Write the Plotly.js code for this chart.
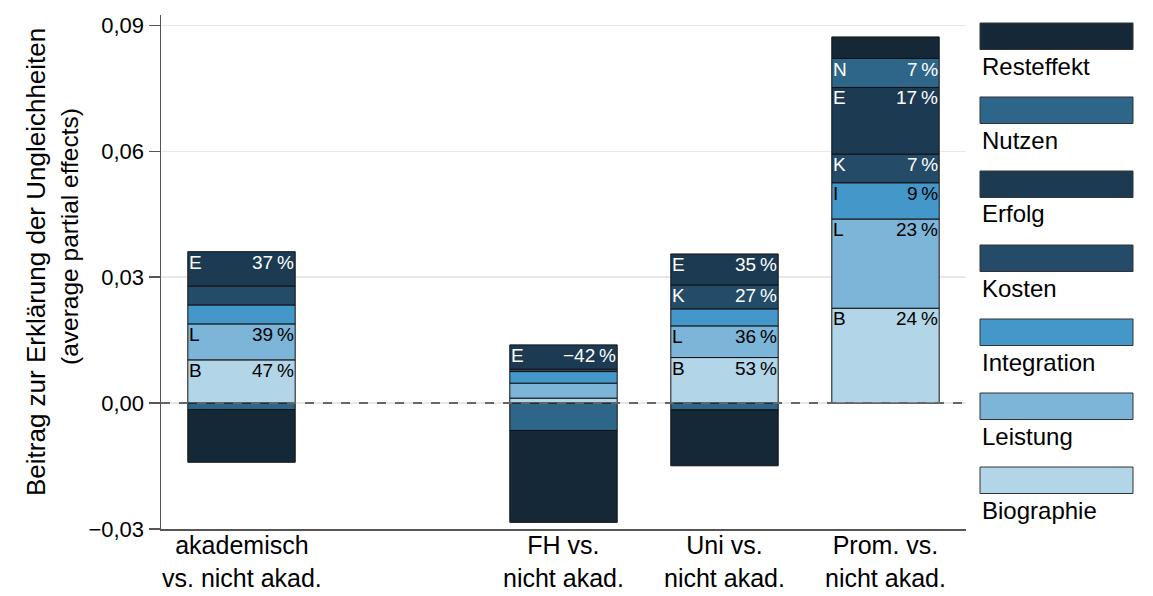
<!DOCTYPE html>
<html>
<head>
<meta charset="utf-8">
<script src="https://cdn.plot.ly/plotly-3.0.1.min.js"></script>
<style>html,body{margin:0;padding:0;background:#fff;}#chart{width:1153px;height:596px;}</style>
</head>
<body>
<div id="chart"></div>
<script>
// ---- data ----
const categoryPositions = [0, 2, 3, 4];
const categoryLabels = ["akademisch<br>vs. nicht akad.", "FH vs.<br>nicht akad.", "Uni vs.<br>nicht akad.", "Prom. vs.<br>nicht akad."];

const seriesNames = ["Biographie", "Leistung", "Integration", "Kosten", "Erfolg", "Nutzen", "Resteffekt"];
const seriesShort = ["B", "L", "I", "K", "E", "N", "R"];
const biographie  = [0.01031, 0.00119, 0.01086, 0.02262];
const leistung    = [0.00857, 0.00357, 0.00755, 0.02126];
const integration = [0.00452, 0.00276, 0.00405, 0.00864];
const kosten      = [0.00452, 0.00057, 0.00571, 0.00683];
const erfolg      = [0.00817, 0.00579, 0.00738, 0.01588];
const nutzen      = [-0.00155, -0.00652, -0.00160, 0.00690];
const resteffekt  = [-0.01255, -0.02190, -0.01333, 0.00514];
const seriesValues = [biographie, leistung, integration, kosten, erfolg, nutzen, resteffekt];

// share labels ("" = no label shown)
const shareBiographie  = ["47\u2009%", "", "53\u2009%", "24\u2009%"];
const shareLeistung    = ["39\u2009%", "", "36\u2009%", "23\u2009%"];
const shareIntegration = ["", "", "", "9\u2009%"];
const shareKosten      = ["", "", "27\u2009%", "7\u2009%"];
const shareErfolg      = ["37\u2009%", "\u221242\u2009%", "35\u2009%", "17\u2009%"];
const shareNutzen      = ["", "", "", "7\u2009%"];
const shareResteffekt  = ["", "", "", ""];
const seriesShares = [shareBiographie, shareLeistung, shareIntegration, shareKosten, shareErfolg, shareNutzen, shareResteffekt];

const yTickVals = [-0.03, 0, 0.03, 0.06, 0.09];

// ---- styles ----
const colors = ["#b3d5e8", "#7db5d8", "#4497c9", "#244b67", "#1c3b52", "#2e6689", "#142838"];
const labelColors = ["#000", "#000", "#000", "#fff", "#fff", "#fff", "#fff"];
const FONT = "Liberation Sans, Arial, sans-serif";
const barWidth = 0.667;

const traces = seriesNames.map((name, i) => ({
  type: "bar",
  name: name,
  x: categoryPositions,
  y: seriesValues[i],
  width: barWidth,
  marker: {color: colors[i], line: {color: "#111", width: 1}},
  showlegend: false,
  hoverinfo: "name+y"
}));

// segment labels from the stacked values
const annotations = [];
categoryPositions.forEach((pos, c) => {
  let posSum = 0, negSum = 0;
  seriesValues.forEach((vals, i) => {
    const v = vals[c];
    let top;
    if (v >= 0) { posSum += v; top = posSum; } else { top = negSum; negSum += v; }
    const txt = seriesShares[i][c];
    if (txt) {
      annotations.push({x: pos - barWidth / 2, y: top, xref: "x", yref: "y", text: seriesShort[i],
        showarrow: false, xanchor: "left", yanchor: "top", xshift: -1, yshift: 2,
        font: {family: FONT, size: 19, color: labelColors[i]}});
      annotations.push({x: pos + barWidth / 2, y: top, xref: "x", yref: "y", text: txt,
        showarrow: false, xanchor: "right", yanchor: "top", xshift: 1, yshift: 2,
        font: {family: FONT, size: 19, color: labelColors[i]}});
    }
  });
});

// layout geometry (pixels)
const W = 1153, H = 596;
const M = {l: 161, r: 187, t: 15, b: 67};
const plotW = W - M.l - M.r, plotH = H - M.t - M.b;
const px = x => (x - M.l) / plotW;
const py = y => (H - M.b - y) / plotH;

// category labels (two lines each)
categoryPositions.forEach((pos, c) => {
  annotations.push({x: pos, y: py(561), xref: "x", yref: "paper", text: categoryLabels[c], showarrow: false,
    xanchor: "center", yanchor: "middle", align: "center", font: {family: FONT, size: 25, color: "#000"}});
});

// y-axis title as two centred lines
annotations.push({x: px(36), y: py(262), xref: "paper", yref: "paper", text: "Beitrag zur Erklärung der Ungleichheiten",
  textangle: -90, showarrow: false, xanchor: "center", yanchor: "middle", font: {family: FONT, size: 26, color: "#000"}});
annotations.push({x: px(69), y: py(237), xref: "paper", yref: "paper", text: "(average partial effects)",
  textangle: -90, showarrow: false, xanchor: "center", yanchor: "middle", font: {family: FONT, size: 24.5, color: "#000"}});

// legend (top to bottom: reverse stacking order)
const shapes = [];
const legendOrder = [6, 5, 4, 3, 2, 1, 0];
legendOrder.forEach((i, k) => {
  const top = 23 + k * 74;
  shapes.push({type: "rect", xref: "paper", yref: "paper", x0: px(980), x1: px(1133), y0: py(top + 26.5), y1: py(top),
    fillcolor: colors[i], line: {color: "#333", width: 1}, layer: "above"});
  annotations.push({x: px(980), y: py(top + 43), xref: "paper", yref: "paper", text: seriesNames[i], showarrow: false,
    xanchor: "left", yanchor: "middle", font: {family: FONT, size: 24, color: "#000"}});
});

// dashed zero line
shapes.push({type: "line", xref: "paper", yref: "y", x0: 0, x1: 1, y0: 0, y1: 0,
  line: {color: "#666", width: 2, dash: "dash"}, layer: "above"});

const layout = {
  width: W, height: H,
  margin: M,
  barmode: "relative",
  bargap: 0,
  paper_bgcolor: "#fff", plot_bgcolor: "#fff",
  separators: ",.",
  font: {family: FONT, color: "#000"},
  xaxis: {
    range: [-0.5, 4.5], tickvals: categoryPositions, showticklabels: false,
    showgrid: false, zeroline: false, showline: true, linecolor: "#555", linewidth: 1.5,
    ticks: ""
  },
  yaxis: {
    range: [-0.03, 0.0925], tickvals: yTickVals, tickformat: ".2f",
    showgrid: true, gridcolor: "#e8e8e8", gridwidth: 1.5, zeroline: false,
    showline: true, linecolor: "#555", linewidth: 1.5,
    ticks: "outside", ticklen: 11, tickcolor: "#555", tickwidth: 1.5,
    tickfont: {family: FONT, size: 22, color: "#000"}
  },
  shapes: shapes,
  annotations: annotations
};

Plotly.newPlot("chart", traces, layout, {displayModeBar: false, staticPlot: true});
</script>
</body>
</html>
